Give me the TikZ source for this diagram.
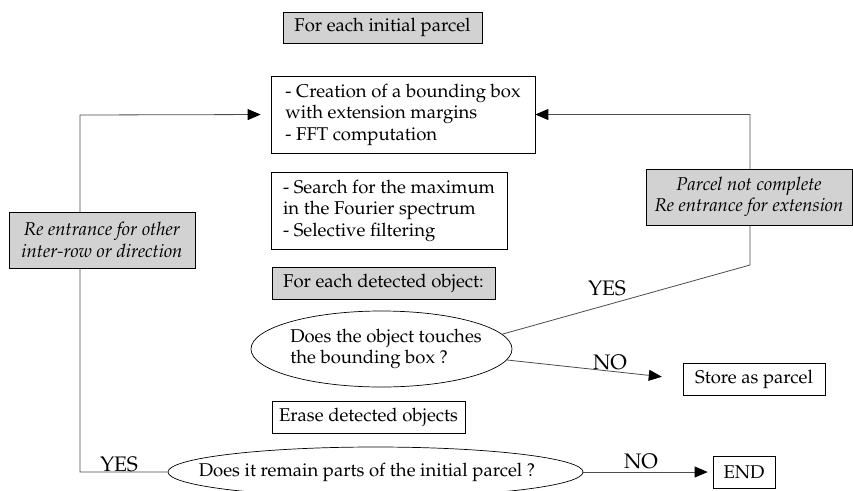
\documentclass[tikz,border=0pt]{standalone}
\usepackage[T1]{fontenc}
\usepackage{mathpazo}
\usetikzlibrary{arrows.meta,shapes.geometric,backgrounds}
\begin{document}
\begin{tikzpicture}[x=1pt,y=-1pt,
  every node/.style={font=\fontsize{18.5}{21.5}\selectfont},
  box/.style={draw=black,line width=0.7pt,inner sep=0pt,align=center},
  gbox/.style={box,fill=gray!35},
  ital/.style={font=\fontsize{18.5}{21.5}\selectfont\itshape},
  oval/.style={ellipse,draw=black,line width=0.7pt,inner sep=0pt},
  conn/.style={draw=black!70,line width=0.8pt},
  arr/.style={conn,-{Triangle[length=13pt,width=11pt,color=black]}},
  lab/.style={font=\fontsize{21}{24}\selectfont,inner sep=0pt}]
\useasboundingbox (0,0) rectangle (853,490);

\node[gbox,minimum width=199pt,minimum height=31pt] (init) at (382.5,27.5) {For each initial parcel};
\node[box,minimum width=264pt,minimum height=77pt,align=left] (cre) at (403,114.5)
  {- Creation of a bounding box\\with extension margins\\- FFT computation};
\node[box,minimum width=236pt,minimum height=77pt,align=left] (sea) at (389,210.5)
  {- Search for the maximum\\in the Fourier spectrum\\- Selective filtering};
\node[gbox,minimum width=223pt,minimum height=32pt] (det) at (383.5,283) {For each detected object:};
\node[oval,minimum width=261pt,minimum height=76pt] (e1) at (381.5,349) {};
\node[align=left,inner sep=0pt] (e1t) at (386,349) {Does the object touches\\ the bounding box ?};
\node[box,minimum width=193pt,minimum height=32pt] (era) at (368.5,417) {Erase detected objects};
\node[oval,minimum width=415pt,minimum height=50pt] (e2) at (375.5,472) {};
\node[inner sep=0pt] (e2t) at (367,472) {Does it remain parts of the initial parcel ?};
\node[box,minimum width=142pt,minimum height=32pt] (st) at (754,379) {Store as parcel};
\node[box,minimum width=62pt,minimum height=32pt] (fin) at (744,472) {END};

\node[gbox,ital,minimum width=186pt,minimum height=56pt] (re) at (102,240)
  {Re entrance for other\\inter-row or direction};
\node[gbox,ital,minimum width=206pt,minimum height=56pt] (pnc) at (749,197)
  {Parcel not complete\\Re entrance for extension};

\node[lab] (yes1) at (607,288) {YES};
\node[lab] (no1) at (610,362) {NO};
\node[lab] (yes2) at (119,464) {YES};
\node[lab] (no2) at (641,461) {NO};

\coordinate (lc) at (80,115);
\coordinate (rb) at (750,265);

\begin{scope}[on background layer]
\fill[white] (0,0) rectangle (853,490);
\draw[arr,shorten >=10pt] (e2.west) -| (lc) -- (cre.west);
\draw[arr] (e1.7) -- (rb) |- (cre.east);
\draw[arr,shorten >=21pt] (e1.-5) -- (st.west);
\draw[arr,shorten >=5pt] (e2.east) -- (fin.west);
\end{scope}
\end{tikzpicture}
\end{document}
